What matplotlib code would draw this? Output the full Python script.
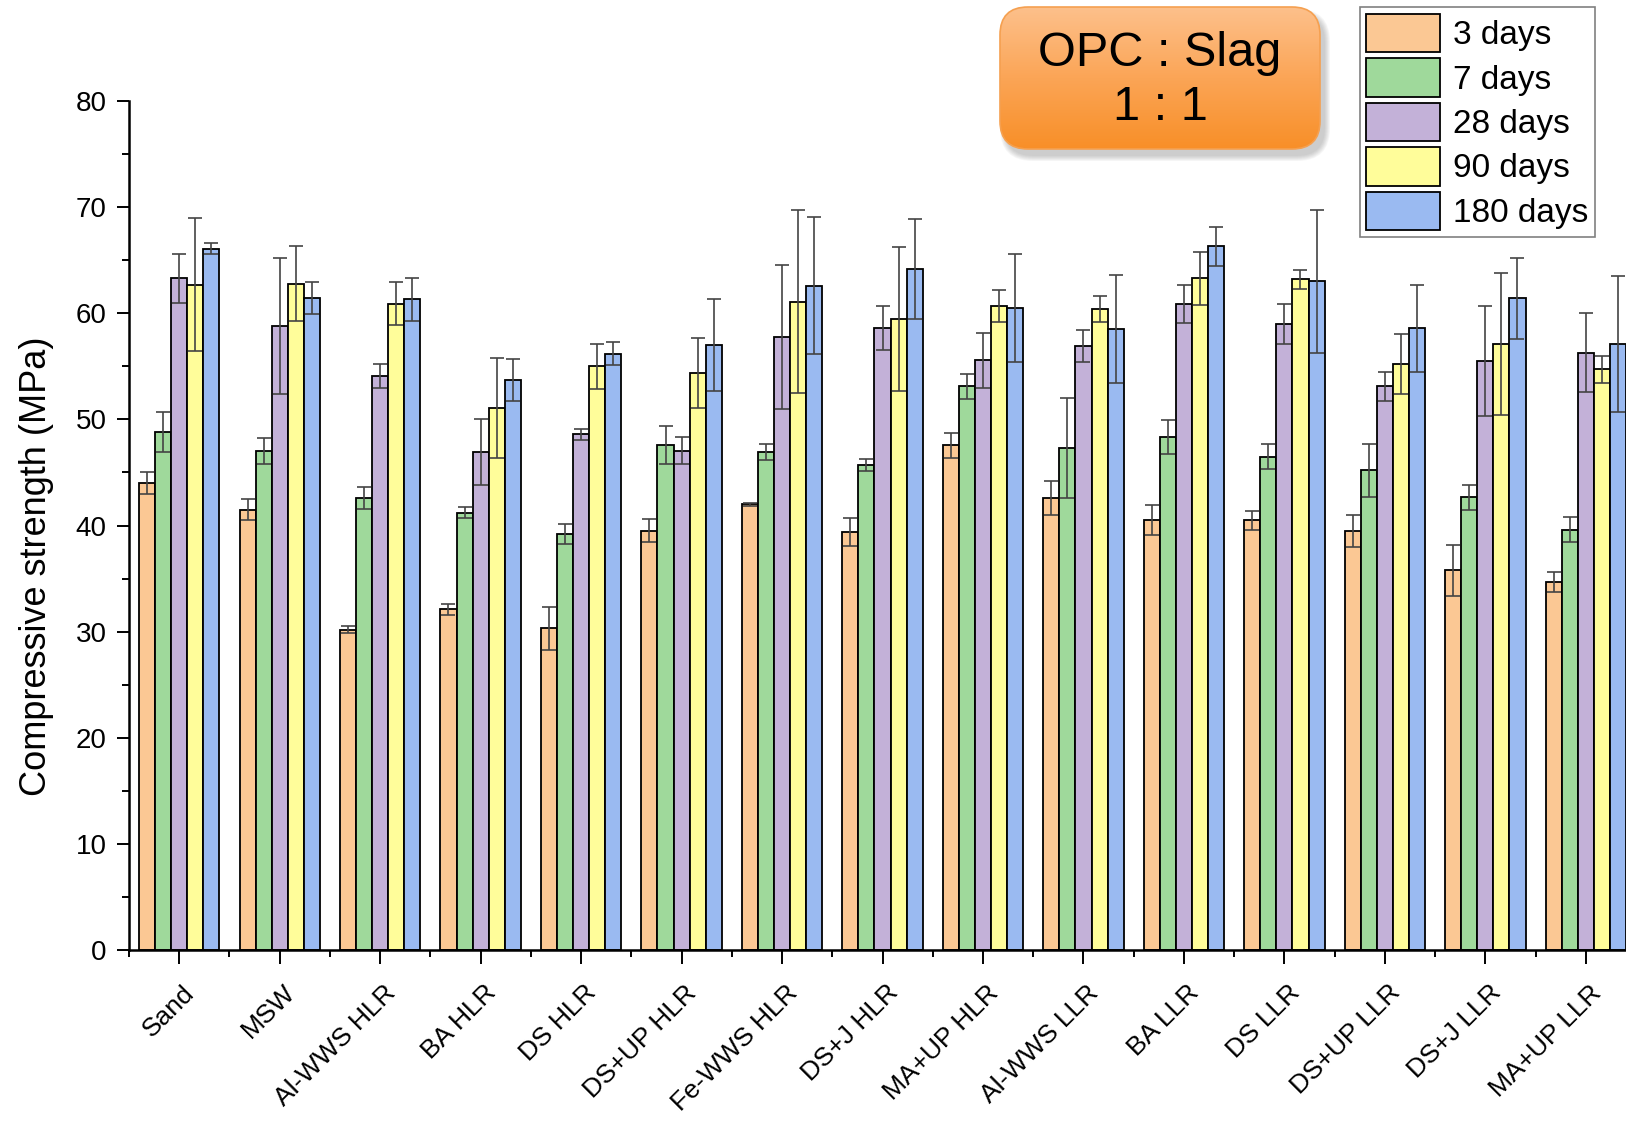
import numpy as np
import matplotlib
matplotlib.use('Agg')
import matplotlib.pyplot as plt
from matplotlib.patches import FancyBboxPatch
from matplotlib.colors import LinearSegmentedColormap
from matplotlib.transforms import ScaledTranslation

plt.rcParams['font.family'] = ['Liberation Sans', 'DejaVu Sans']

# categories and series (compressive strength, MPa) with std errors
categories = ['Sand', 'MSW', 'Al-WWS HLR', 'BA HLR', 'DS HLR', 'DS+UP HLR', 'Fe-WWS HLR',
              'DS+J HLR', 'MA+UP HLR', 'Al-WWS LLR', 'BA LLR', 'DS LLR', 'DS+UP LLR',
              'DS+J LLR', 'MA+UP LLR']
series_names = ['3 days', '7 days', '28 days', '90 days', '180 days']

d3 = [44.0, 41.5, 30.2, 32.1, 30.3, 39.5, 42.0, 39.4, 47.55, 42.6, 40.5, 40.5, 39.5, 35.8, 34.65]
e3 = [1.0, 1.0, 0.3, 0.5, 2.0, 1.1, 0.15, 1.35, 1.15, 1.6, 1.4, 0.9, 1.5, 2.4, 0.95]
d7 = [48.8, 47.0, 42.6, 41.2, 39.2, 47.55, 46.9, 45.7, 53.1, 47.3, 48.3, 46.5, 45.2, 42.65, 39.6]
e7 = [1.9, 1.2, 1.0, 0.5, 0.9, 1.8, 0.75, 0.6, 1.15, 4.7, 1.6, 1.2, 2.5, 1.2, 1.2]
d28 = [63.3, 58.8, 54.1, 46.9, 48.6, 47.05, 57.75, 58.6, 55.55, 56.9, 60.85, 59.0, 53.1, 55.5, 56.3]
e28 = [2.3, 6.4, 1.1, 3.1, 0.5, 1.25, 6.8, 2.1, 2.6, 1.5, 1.8, 1.9, 1.4, 5.2, 3.7]
d90 = [62.7, 62.8, 60.9, 51.1, 55.0, 54.4, 61.1, 59.45, 60.7, 60.4, 63.3, 63.2, 55.2, 57.1, 54.7]
e90 = [6.3, 3.5, 2.0, 4.7, 2.1, 3.3, 8.6, 6.8, 1.5, 1.2, 2.5, 0.9, 2.8, 6.7, 1.25]
d180 = [66.1, 61.4, 61.3, 53.7, 56.2, 57.0, 62.6, 64.15, 60.5, 58.5, 66.3, 63.0, 58.6, 61.4, 57.1]
e180 = [0.5, 1.5, 2.0, 2.0, 1.1, 4.3, 6.45, 4.7, 5.1, 5.1, 1.85, 6.7, 4.1, 3.8, 6.4]

colors = ['#FBC894', '#9FD99B', '#C3B1D8', '#FFFD9A', '#9ABAF1']

fig = plt.figure(figsize=(16.26, 11.31), dpi=100)
ax = fig.add_axes([129 / 1626, 1 - 950 / 1131, 1 - 129 / 1626, (950 - 101) / 1131])

x = np.arange(1, len(categories) + 1)
w = 0.16
vals = [d3, d7, d28, d90, d180]
errs = [e3, e7, e28, e90, e180]
handles = []
for j in range(5):
    xs = x + (j - 2) * w
    b = ax.bar(xs, vals[j], w, color=colors[j], edgecolor='black', linewidth=1.3,
               label=series_names[j], zorder=2)
    handles.append(b)
    ax.errorbar(xs, vals[j], yerr=errs[j], fmt='none', ecolor='#444444',
                elinewidth=1.2, capsize=5, capthick=1.2, zorder=3)

ax.set_xlim(0.5, 15.40)
ax.set_ylim(0, 80)
ax.spines['top'].set_visible(False)
ax.spines['right'].set_visible(False)
ax.spines['left'].set_linewidth(1.8)
ax.spines['bottom'].set_linewidth(1.8)

ax.set_yticks(np.arange(0, 81, 10))
ax.set_yticks(np.arange(5, 80, 10), minor=True)
ax.set_xticks(x)
ax.set_xticks(np.arange(0.5, 15.5, 1.0), minor=True)
ax.tick_params(axis='y', which='major', length=9, width=1.4, labelsize=20, pad=7)
ax.tick_params(axis='y', which='minor', length=5, width=1.4)
ax.tick_params(axis='x', which='major', length=10, width=1.4, labelsize=19, pad=12)
ax.tick_params(axis='x', which='minor', length=5, width=1.4)

ax.set_xticklabels(categories, rotation=45, ha='right', va='top')
for lab in ax.get_xticklabels():
    lab.set_transform(lab.get_transform() + ScaledTranslation(0.2, 0, fig.dpi_scale_trans))

ax.set_ylabel('Compressive strength (MPa)', fontsize=26)
ax.yaxis.set_label_coords(-0.050, 0.452)

leg = ax.legend(handles=handles, loc='upper right',
                bbox_to_anchor=(1595 / 1626, 1 - 7 / 1131), bbox_transform=fig.transFigure,
                fontsize=24, frameon=True, fancybox=False, edgecolor='#606060',
                handlelength=2.2, handleheight=1.4, handletextpad=0.4,
                labelspacing=0.18, borderpad=0.2, borderaxespad=0)
leg.get_frame().set_linewidth(1.2)

# overlay in pixel coords for the "OPC : Slag" box
ov = fig.add_axes([0, 0, 1, 1], facecolor='none')
ov.set_axis_off()
bx, by, bw, bh = 1000, 7, 320, 142
for k in range(6):
    s = FancyBboxPatch((bx + 5 - k, by + 7 - k), bw + 2 * k, bh + 2 * k,
                       boxstyle='round,pad=0,rounding_size=%d' % (28 + k),
                       facecolor='#7a7a7a', edgecolor='none', alpha=0.07)
    ov.add_patch(s)
box = FancyBboxPatch((bx, by), bw, bh, boxstyle='round,pad=0,rounding_size=28',
                     facecolor='none', edgecolor='#F5A050', linewidth=1.2)
ov.add_patch(box)
cmap = LinearSegmentedColormap.from_list('og', ['#FDC08B', '#FBA556', '#F88F28'])
grad = np.linspace(0, 1, 200).reshape(-1, 1)
im = ov.imshow(grad, extent=(bx, bx + bw, by + bh, by), cmap=cmap, aspect='auto',
               origin='upper', zorder=1)
im.set_clip_path(box)
box.set_zorder(2)
ov.text(bx + bw / 2, 53, 'OPC : Slag', fontsize=35, ha='center', va='center', zorder=3)
ov.text(bx + bw / 2, 107, '1 : 1', fontsize=35, ha='center', va='center', zorder=3)
ov.set_xlim(0, 1626)
ov.set_ylim(1131, 0)

fig.savefig('out.png', dpi=100)
